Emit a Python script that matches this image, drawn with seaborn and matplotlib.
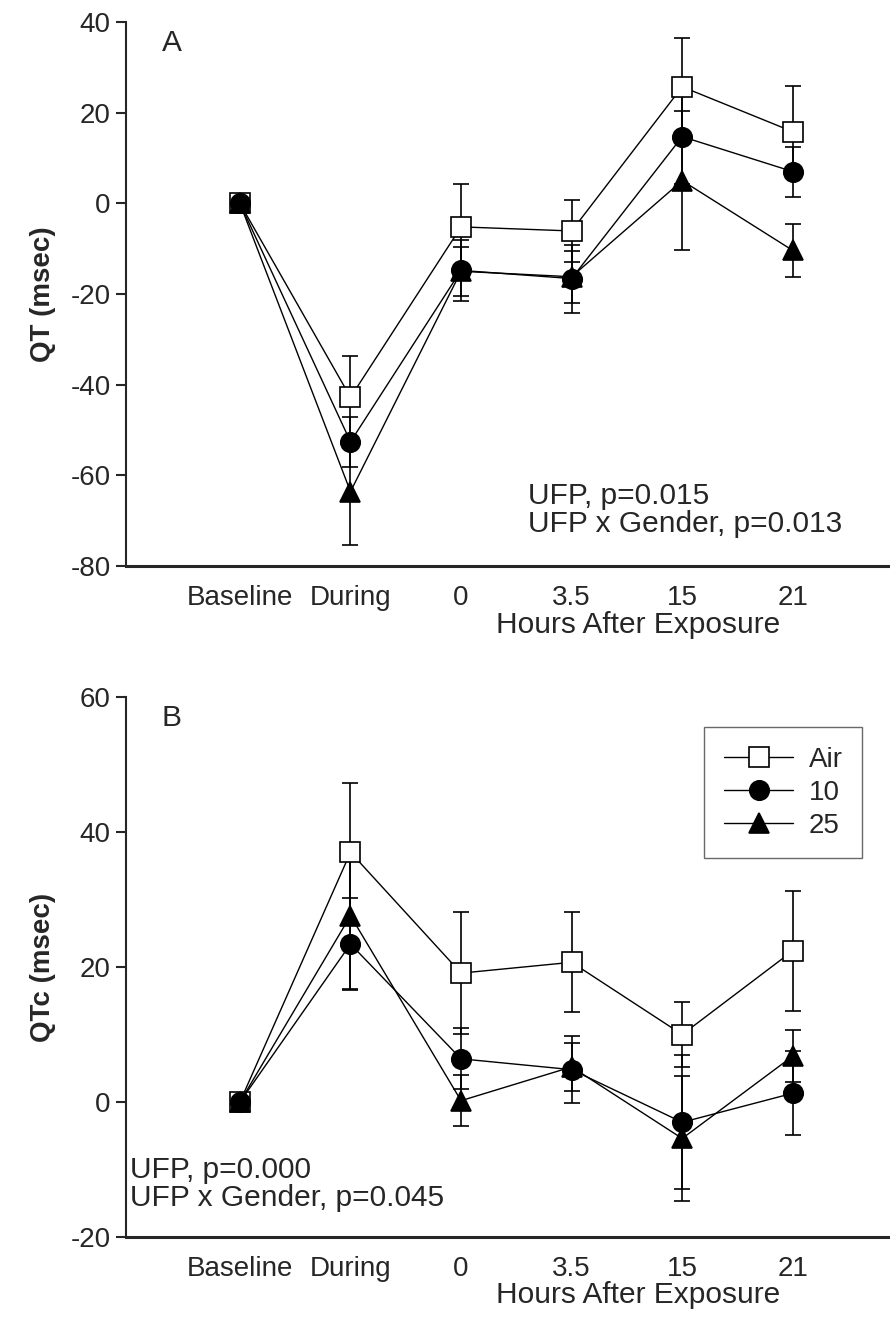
"""
QT / QTc change from baseline after UFP exposure (panels A and B)
"""

import numpy as np
import pandas as pd
import matplotlib
matplotlib.use("Agg")
import matplotlib.pyplot as plt
import seaborn as sns

# x categories
time_labels = ["Baseline", "During", "0", "3.5", "15", "21"]
groups = ["Air", "10", "25"]

# Panel A: QT (msec), mean and error per group
qt_air = [0, -42.8, -5.2, -6.1, 25.7, 15.8]
qt_air_err = [0, 9.1, 9.4, 6.8, 10.8, 10.1]
qt_10 = [0, -52.6, -14.8, -16.6, 14.7, 7.0]
qt_10_err = [0, 5.5, 6.8, 7.5, 10.4, 5.5]
qt_25 = [0, -63.6, -15.0, -16.2, 5.0, -10.4]
qt_25_err = [0, 11.8, 5.4, 5.7, 15.3, 5.8]

# Panel B: QTc (msec)
qtc_air = [0, 37.0, 19.1, 20.7, 10.0, 22.4]
qtc_air_err = [0, 10.2, 9.0, 7.4, 4.8, 8.9]
qtc_10 = [0, 23.4, 6.4, 4.8, -3.0, 1.3]
qtc_10_err = [0, 6.8, 4.5, 5.0, 9.9, 6.2]
qtc_25 = [0, 27.6, 0.2, 5.2, -5.4, 6.8]
qtc_25_err = [0, 10.8, 3.8, 3.5, 9.2, 3.8]

FONT = 20
TEXT_FONT = 21.5


def make_frame(means, errs):
    rows = []
    for g, m, e in zip(groups, means, errs):
        for i, (v, s) in enumerate(zip(m, e)):
            rows.append({"x": i, "value": v, "err": s, "group": g})
    return pd.DataFrame(rows)


def draw_panel(ax, df, ylim, ylabel, letter, notes, note_xy, legend=False):
    # error bars first, behind the markers
    for g in groups:
        d = df[df["group"] == g]
        ax.errorbar(d["x"], d["value"], yerr=d["err"], fmt="none",
                    ecolor="black", elinewidth=1.2, capsize=6, capthick=1.2,
                    zorder=2)
    n_before = len(ax.lines)
    sns.lineplot(data=df, x="x", y="value", hue="group", style="group",
                 hue_order=groups, style_order=groups,
                 palette={g: "black" for g in groups},
                 markers={"Air": "s", "10": "o", "25": "^"}, dashes=False,
                 markersize=14, markeredgecolor="black", markeredgewidth=1.2,
                 linewidth=1.0, legend=False, ax=ax)
    series = ax.lines[n_before:]
    for line, g, z, ms in zip(series, groups, [3, 5, 4], [15, 14, 15]):
        line.set_zorder(z)
        line.set_markersize(ms)
        if g == "Air":
            line.set_markerfacecolor("white")

    ax.set_xlim(-1.03, 5.86)
    ax.set_ylim(*ylim)
    ax.set_yticks(np.arange(ylim[0], ylim[1] + 1, 20))
    ax.set_xticks(range(len(time_labels)))
    ax.set_xticklabels(time_labels)
    ax.tick_params(axis="x", length=0, pad=14, labelsize=FONT)
    ax.tick_params(axis="y", length=7, width=1.5, pad=4, labelsize=FONT,
                   direction="out")
    sns.despine(ax=ax)
    ax.spines["left"].set_linewidth(1.5)
    ax.spines["bottom"].set_linewidth(2.2)

    ax.set_xlabel("")
    ax.set_ylabel(ylabel, fontsize=FONT, fontweight="bold")
    ax.yaxis.set_label_coords(-0.092, 0.5)
    ax.text(3.6, -0.108, "Hours After Exposure", fontsize=TEXT_FONT,
            ha="center", va="center",
            transform=ax.get_xaxis_transform())
    ax.text(0.06, 0.962, letter, fontsize=TEXT_FONT, ha="center",
            va="center", transform=ax.transAxes)
    ax.text(note_xy[0], note_xy[1], "\n".join(notes), fontsize=TEXT_FONT,
            ha="left", va="top", linespacing=1.0, transform=ax.transAxes)

    if legend:
        ax.legend(handles=series, labels=groups, loc="upper right",
                  bbox_to_anchor=(0.966, 0.944), fontsize=FONT,
                  frameon=True, fancybox=False, edgecolor="#444444",
                  handlelength=2.5, handletextpad=0.55, labelspacing=0.25,
                  borderpad=0.7, borderaxespad=0)
        ax.get_legend().get_frame().set_linewidth(1.0)


sns.set_style("ticks")
plt.rcParams["font.family"] = ["Liberation Sans", "DejaVu Sans"]
plt.rcParams["axes.unicode_minus"] = False

fig = plt.figure(figsize=(8.9, 13.32), dpi=100)
ax_a = fig.add_axes([0.1416, 0.5751, 0.856, 0.4084])
ax_b = fig.add_axes([0.1416, 0.0713, 0.856, 0.4054])

df_a = make_frame([qt_air, qt_10, qt_25], [qt_air_err, qt_10_err, qt_25_err])
df_b = make_frame([qtc_air, qtc_10, qtc_25],
                  [qtc_air_err, qtc_10_err, qtc_25_err])

draw_panel(ax_a, df_a, (-80, 40), "QT (msec)", "A",
           ["UFP, p=0.015", "UFP x Gender, p=0.013"], (0.528, 0.154))
draw_panel(ax_b, df_b, (-20, 60), "QTc (msec)", "B",
           ["UFP, p=0.000", "UFP x Gender, p=0.045"], (0.005, 0.150),
           legend=True)

fig.savefig("out.png", dpi=100)
plt.close(fig)
